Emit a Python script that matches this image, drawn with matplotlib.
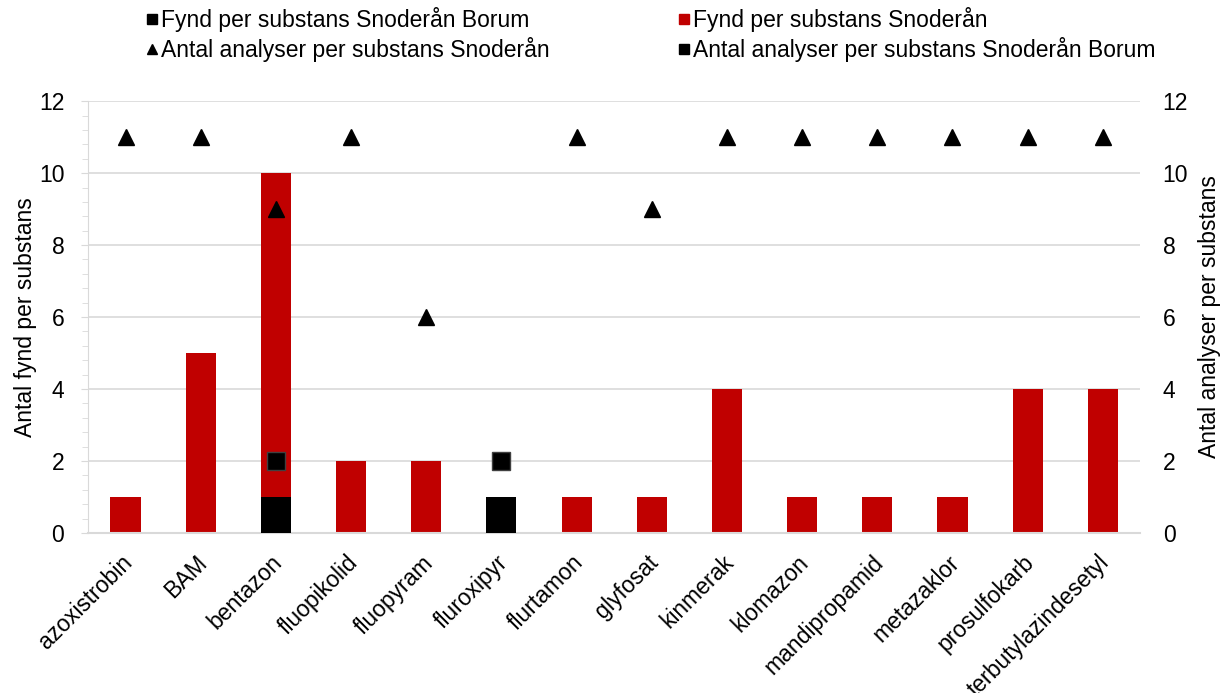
import matplotlib
matplotlib.use("Agg")
import matplotlib.pyplot as plt
import matplotlib.transforms as mtransforms
from matplotlib.lines import Line2D
from matplotlib.ticker import MultipleLocator
import numpy as np

plt.rcParams["font.family"] = ["Liberation Sans", "DejaVu Sans"]

substances = ["azoxistrobin", "BAM", "bentazon", "fluopikolid", "fluopyram",
              "fluroxipyr", "flurtamon", "glyfosat", "kinmerak", "klomazon",
              "mandipropamid", "metazaklor", "prosulfokarb", "terbutylazindesetyl"]
fynd_snoderan = [1, 5, 10, 2, 2, 0, 1, 1, 4, 1, 1, 1, 4, 4]
fynd_borum = [0, 0, 1, 0, 0, 1, 0, 0, 0, 0, 0, 0, 0, 0]
analyser_snoderan = [11, 11, 9, 11, 6, np.nan, 11, 9, 11, 11, 11, 11, 11, 11]
analyser_borum = [np.nan, np.nan, 2, np.nan, np.nan, 2, np.nan, np.nan,
                  np.nan, np.nan, np.nan, np.nan, np.nan, np.nan]

RED = "#C00000"
GRID = "#D9D9D9"
FS = 16.5

fig = plt.figure(figsize=(12.21, 6.93), dpi=100)
ax = fig.add_axes([0.072, 0.231, 0.862, 0.623])
ax2 = ax.twinx()

x = np.arange(len(substances))
ax.bar(x, fynd_snoderan, width=0.4, color=RED, zorder=2)
ax.bar(x, fynd_borum, width=0.4, color="black", zorder=3)

ax2.plot(x, analyser_snoderan, linestyle="none", marker="^", markersize=11,
         color="black", zorder=4)
ax2.plot(x, analyser_borum, linestyle="none", marker="s", markersize=13,
         markerfacecolor="black", markeredgecolor="#404040", zorder=4)

for a in (ax, ax2):
    a.set_ylim(0, 12)
    a.set_yticks(range(0, 13, 2))
    a.set_xlim(-0.5, len(substances) - 0.5)
    for s in a.spines.values():
        s.set_visible(False)

ax.yaxis.grid(True, color=GRID, linewidth=1.2, zorder=0)
ax.set_axisbelow(True)
ax.spines["left"].set_visible(True)
ax.spines["left"].set_color(GRID)
ax.spines["bottom"].set_visible(True)
ax.spines["bottom"].set_color(GRID)
ax.spines["bottom"].set_linewidth(1.5)
ax.yaxis.set_minor_locator(MultipleLocator(0.4))
ax.tick_params(axis="y", which="both", color=GRID, labelsize=FS)
ax.tick_params(axis="y", which="major", length=5, pad=12)
ax.tick_params(axis="y", which="minor", length=4)
ax.tick_params(axis="x", length=0, labelsize=FS, pad=8)
ax2.tick_params(axis="y", length=0, labelsize=FS, pad=16)

ax.set_xticks(x)
ax.set_xticklabels(substances, rotation=45, ha="right", rotation_mode="anchor")
shift = mtransforms.ScaledTranslation(-5 / 100, -7 / 100, fig.dpi_scale_trans)
for lbl in ax.get_xticklabels():
    lbl.set_transform(lbl.get_transform() + shift)

ax.set_ylabel("Antal fynd per substans", fontsize=FS, labelpad=1)
ax2.set_ylabel("Antal analyser per substans", fontsize=FS, labelpad=7)

handles = [
    Line2D([], [], linestyle="none", marker="s", markersize=7, color="black"),
    Line2D([], [], linestyle="none", marker="^", markersize=7, color="black"),
    Line2D([], [], linestyle="none", marker="s", markersize=7, color=RED),
    Line2D([], [], linestyle="none", marker="s", markersize=7, color="black"),
]
labels = ["Fynd per substans Snoderån Borum",
          "Antal analyser per substans Snoderån",
          "Fynd per substans Snoderån",
          "Antal analyser per substans Snoderån Borum"]
fig.legend(handles, labels, ncol=2, loc="upper left",
           bbox_to_anchor=(0.103, 1.02), frameon=False, fontsize=FS,
           handlelength=0.5, handletextpad=0.15, columnspacing=5.6,
           labelspacing=0.22)

fig.savefig("out.png", dpi=100)
